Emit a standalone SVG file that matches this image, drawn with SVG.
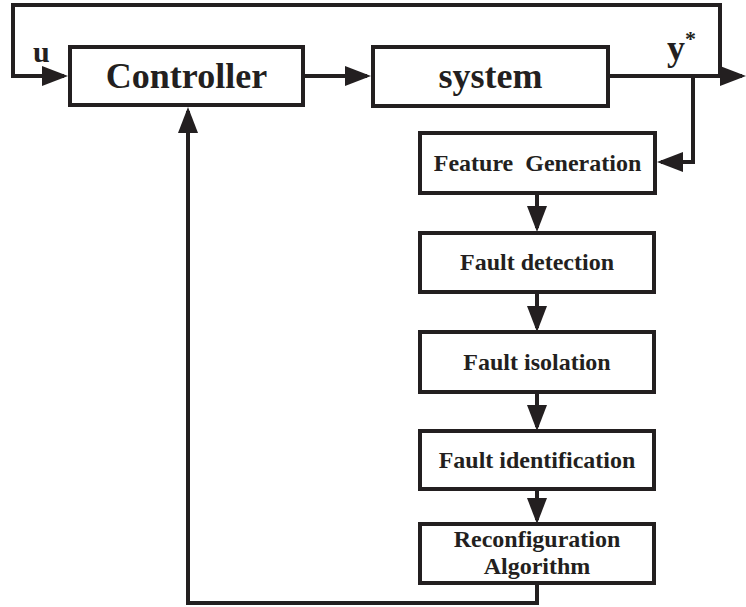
<svg xmlns="http://www.w3.org/2000/svg" width="746" height="607" viewBox="0 0 746 607">
  <defs>
    <style>
      .box { fill: #ffffff; stroke: #231f20; stroke-width: 4; }
      .wire { fill: none; stroke: #231f20; stroke-width: 4; stroke-linejoin: miter; }
      .big { font-family: "Liberation Serif", "Times New Roman", serif; font-weight: bold; font-size: 36px; fill: #231f20; text-anchor: middle; }
      .small { font-family: "Liberation Serif", "Times New Roman", serif; font-weight: bold; font-size: 24px; fill: #231f20; text-anchor: middle; }
      .lbl { font-family: "Liberation Serif", "Times New Roman", serif; font-weight: bold; fill: #231f20; }
    </style>
    <marker id="arrow" markerUnits="userSpaceOnUse" markerWidth="26" markerHeight="20" viewBox="0 0 26 20" refX="22" refY="10" orient="auto">
      <path d="M0,0 L26,10 L0,20 z" fill="#231f20"/>
    </marker>
  </defs>

  <!-- connectors -->
  <g id="connectors">
    <path class="wire" d="M720,76 V5 H13 V76 H64" marker-end="url(#arrow)"/>
    <path class="wire" d="M303,76 H367" marker-end="url(#arrow)"/>
    <path class="wire" d="M608,76 H742" marker-end="url(#arrow)"/>
    <path class="wire" d="M693,76 V162 H661" marker-end="url(#arrow)"/>
    <path class="wire" d="M537,193 V228" marker-end="url(#arrow)"/>
    <path class="wire" d="M537,292 V328" marker-end="url(#arrow)"/>
    <path class="wire" d="M537,392 V427" marker-end="url(#arrow)"/>
    <path class="wire" d="M537,489 V520" marker-end="url(#arrow)"/>
    <path class="wire" d="M537,583 V603 H188 V111" marker-end="url(#arrow)"/>
  </g>

  <!-- signal labels -->
  <text class="lbl" x="33" y="62" font-size="30">u</text>
  <text class="lbl" x="667" y="60" font-size="36">y<tspan font-size="22" dy="-14">*</tspan></text>

  <g id="controller">
    <rect class="box" x="70" y="47" width="233" height="58"/>
    <text class="big" x="186.5" y="88">Controller</text>
  </g>
  <g id="system">
    <rect class="box" x="373" y="47" width="235" height="59"/>
    <text class="big" x="490.5" y="88">system</text>
  </g>
  <g id="feature-generation">
    <rect class="box" x="420" y="133" width="235" height="60"/>
    <text class="small" x="537.5" y="171" xml:space="preserve">Feature  Generation</text>
  </g>
  <g id="fault-detection">
    <rect class="box" x="420" y="233" width="234" height="59"/>
    <text class="small" x="537" y="270">Fault detection</text>
  </g>
  <g id="fault-isolation">
    <rect class="box" x="420" y="332" width="234" height="60"/>
    <text class="small" x="537" y="370">Fault isolation</text>
  </g>
  <g id="fault-identification">
    <rect class="box" x="420" y="431" width="234" height="58"/>
    <text class="small" x="537" y="468">Fault identification</text>
  </g>
  <g id="reconfiguration">
    <rect class="box" x="420" y="524" width="234" height="59"/>
    <text class="small" x="537" y="547">Reconfiguration</text>
    <text class="small" x="537" y="574">Algorithm</text>
  </g>
</svg>
